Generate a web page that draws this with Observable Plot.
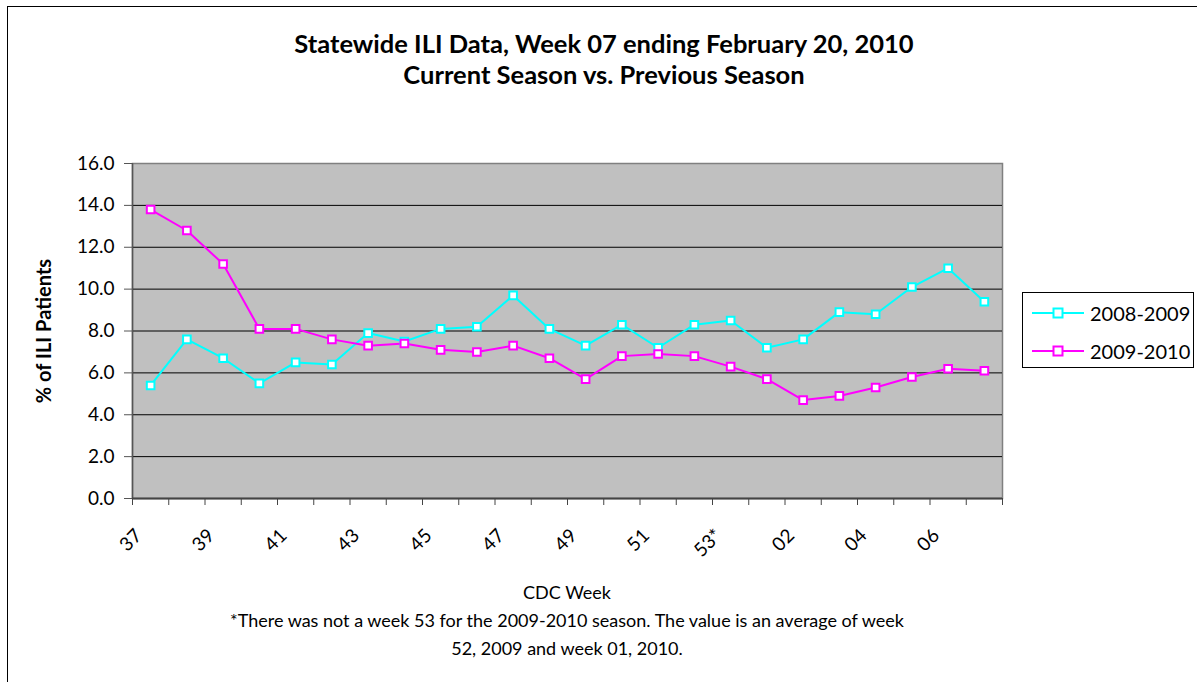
<!DOCTYPE html>
<html>
<head>
<meta charset="utf-8">
<script src="https://cdn.jsdelivr.net/npm/d3@7"></script>
<script src="https://cdn.jsdelivr.net/npm/@observablehq/plot@0.6"></script>
<style>
  html, body { margin: 0; padding: 0; background: #fff; overflow: hidden; }
  #chart { position: relative; width: 1197px; height: 682px; font-family: Lato, "Open Sans", sans-serif; color: #000; }
  #frame { position: absolute; left: 7px; top: 6px; width: 1200px; height: 690px; border-left: 1px solid #000; border-top: 1px solid #000; }
  #title { position: absolute; left: 7px; width: 1194px; top: 28px; text-align: center; font-weight: bold; font-size: 25.5px; line-height: 31px; }
  #plot { position: absolute; left: 0; top: 140px; }
  #caption { position: absolute; left: 67px; width: 1000px; top: 578px; text-align: center; font-size: 18px; line-height: 28px; }
  #legend { position: absolute; left: 1022px; top: 292px; width: 170px; height: 74px; border: 1px solid #000; background: #fff; }
  .lrow { position: absolute; left: 9px; height: 38px; display: flex; align-items: center; font-size: 20px; }
  .lrow svg { margin-right: 6px; }
  #plot svg [aria-label="y-axis label"] text { font-weight: bold; font-size: 20px; }
</style>
</head>
<body>
<div id="chart">
  <div id="frame"></div>
  <div id="title"></div>
  <div id="plot"></div>
  <div id="caption"></div>
  <div id="legend"></div>
</div>
<script>
// ---- data ----
const weeks = ["37","38","39","40","41","42","43","44","45","46","47","48","49","50","51","52","53*","01","02","03","04","05","06","07"];
const season0809 = [5.4,7.6,6.7,5.5,6.5,6.4,7.9,7.5,8.1,8.2,9.7,8.1,7.3,8.3,7.2,8.3,8.5,7.2,7.6,8.9,8.8,10.1,11.0,9.4];
const season0910 = [13.8,12.8,11.2,8.1,8.1,7.6,7.3,7.4,7.1,7.0,7.3,6.7,5.7,6.8,6.9,6.8,6.3,5.7,4.7,4.9,5.3,5.8,6.2,6.1];
const seriesNames = ["2008-2009","2009-2010"];
const seriesColors = ["#00FFFF","#FF00FF"];
const yTicks = [0,2,4,6,8,10,12,14,16];
const xTickLabels = ["37","39","41","43","45","47","49","51","53*","02","04","06"];
const titleLines = ["Statewide ILI Data, Week 07 ending February 20, 2010","Current Season vs. Previous Season"];
const yLabel = "% of ILI Patients";
const xLabel = "CDC Week";
const noteLines = ["*There was not a week 53 for the 2009-2010 season. The value is an average of week","52, 2009 and week 01, 2010."];

// ---- build table ----
const rows = [];
[season0809, season0910].forEach((vals, s) => {
  vals.forEach((v, i) => rows.push({series: seriesNames[s], idx: i, week: weeks[i], value: v}));
});
const boundaries = d3.range(weeks.length + 1).map(k => k - 0.5);
const labelIdx = xTickLabels.map(l => weeks.indexOf(l));

const chart = Plot.plot({
  width: 1010,
  height: 440,
  marginLeft: 132,
  marginRight: 8,
  marginTop: 23,
  marginBottom: 82,
  style: {fontFamily: "Lato, 'Open Sans', sans-serif", fontSize: "19px", color: "#000", background: "transparent", overflow: "visible"},
  x: {type: "linear", domain: [-0.5, weeks.length - 0.5], label: null},
  y: {domain: [0, 16], label: null},
  color: {domain: seriesNames, range: seriesColors},
  marks: [
    Plot.frame({fill: "#C0C0C0", stroke: "#808080", strokeWidth: 1.5}),
    Plot.gridY(yTicks.slice(1, -1), {stroke: "#000", strokeOpacity: 1, strokeWidth: 1}),
    Plot.ruleX([-0.5], {stroke: "#555", strokeWidth: 1.5}),
    Plot.ruleY([0], {stroke: "#444", strokeWidth: 2}),
    Plot.axisY(yTicks, {tickSize: 8, tickPadding: 10, stroke: "#555", tickFormat: d => d.toFixed(1),
      label: yLabel, labelAnchor: "center", labelOffset: 96, labelArrow: "none"}),
    Plot.axisX(boundaries, {tickSize: 7, stroke: "#444", tickFormat: () => "", label: null}),
    Plot.axisX(labelIdx, {tickSize: 0, tickPadding: 34, tickRotate: -45, dx: -12,
      tickFormat: i => weeks[i], label: null}),
    Plot.line(rows, {x: "idx", y: "value", z: "series", stroke: "series", strokeWidth: 2}),
    Plot.dot(rows, {x: "idx", y: "value", symbol: "square", r: 4.3, fill: "#fff", stroke: "series", strokeWidth: 2})
  ]
});
document.getElementById("plot").appendChild(chart);

// ---- texts ----
d3.select("#title").selectAll("div").data(titleLines).join("div").text(d => d);
d3.select("#caption").selectAll("div").data([xLabel, ...noteLines]).join("div").text(d => d);

// ---- legend ----
const leg = d3.select("#legend").selectAll("div").data(seriesNames).join("div")
  .attr("class", "lrow").style("top", (d, i) => (1 + i * 38) + "px");
const sw = leg.append("svg").attr("width", 52).attr("height", 14);
sw.append("line").attr("x1", 0).attr("x2", 52).attr("y1", 7).attr("y2", 7)
  .attr("stroke", (d, i) => seriesColors[i]).attr("stroke-width", 2);
sw.append("rect").attr("x", 21.5).attr("y", 2.5).attr("width", 9).attr("height", 9)
  .attr("fill", "#fff").attr("stroke", (d, i) => seriesColors[i]).attr("stroke-width", 2);
leg.append("span").text(d => d);
</script>
</body>
</html>
